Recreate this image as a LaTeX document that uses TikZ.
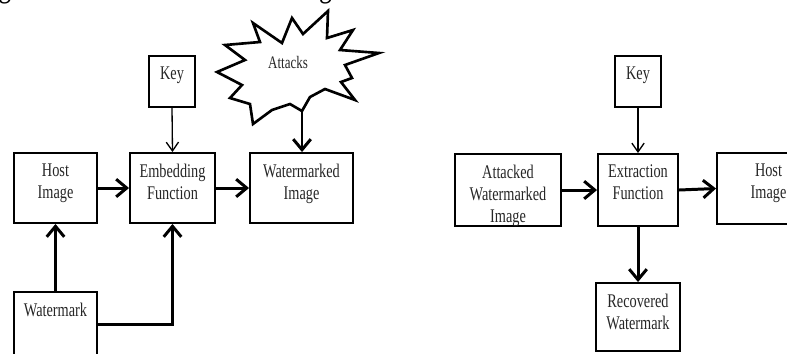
\documentclass[tikz,border=0pt]{standalone}
\usepackage{fontspec}
\setmainfont{Liberation Serif}[FakeStretch=0.74]
\usetikzlibrary{arrows.meta}

\begin{document}
\begin{tikzpicture}[x=0.02cm, y=-0.02cm,
		box/.style={draw=black, line width=1.1pt, inner sep=0pt},
		lbl/.style={anchor=north, align=center, inner sep=0pt, text=black!85, font=\fontsize{11}{12.5}\selectfont},
		flow/.style={line width=1.7pt, -{Straight Barb[length=6pt,width=10pt]}},
		keyflow/.style={line width=0.75pt, -{Straight Barb[length=5pt,width=7pt]}}]
			\useasboundingbox (0,0) rectangle (787,353);
			\clip (0,0) rectangle (787,353);
			% cut line of text above the figure
			\node (caption) [anchor=base west, inner sep=0pt, font=\fontsize{20}{22}\selectfont] at (-2,-4) {g and extraction is shown in Fig. 1.};
			% embedding
			\node[box, minimum width=1.66cm, minimum height=1.4cm] (host) at (55.5,188) {};
			\node[box, minimum width=1.7cm, minimum height=1.4cm] (embed) at (172.5,188) {};
			\node[box, minimum width=2.06cm, minimum height=1.4cm] (wmimg) at (301.5,188) {};
			\node[box, minimum width=0.92cm, minimum height=1.02cm] (keyA) at (172,81.5) {};
			\node[box, minimum width=1.66cm, minimum height=1.28cm] (wmark) at (55.5,324) {};
			\node[lbl] (hostT) at ([yshift=-6.6pt]host.north) {Host\\Image};
			\node[lbl] (embedT) at ([yshift=-6.6pt]embed.north) {Embedding\\Function};
			\node[lbl] (wmimgT) at ([yshift=-6.6pt]wmimg.north) {Watermarked\\Image};
			\node[lbl] (keyAT) at ([yshift=-6.6pt]keyA.north) {Key};
			\node[lbl] (wmarkT) at ([yshift=-6.6pt]wmark.north) {Watermark};
			\draw[line width=1.5pt, line join=miter, miter limit=20] plot coordinates {(253,23) (282,43) (292,18) (303,34) (328,11) (327,38) (353,30) (340,50) (379,53) (345,65) (352,78) (341,82) (355,100) (325,89) (310,97) (302,111) (290,104) (272,110) (253,124) (250,104) (230,98) (242,85) (217,72) (245,60) (225,45) (260,42)} -- cycle;
			\node (attacks) [font=\fontsize{10}{11}\selectfont, text=black!85, inner sep=0pt] at (288,62) {Attacks};
			\coordinate (atk) at (302,111);
			\draw[flow] (host.east) -- (embed.west);
			\draw[flow] (embed.east) -- (wmimg.west);
			\draw[keyflow] (keyA.south) -- (embed.north);
			\draw[flow] (atk) -- (atk |- wmimg.north);
			\draw[flow] (wmark.north) -- (host.south);
			\draw[flow] (wmark.east) -| (embed.south);
			% extraction
			\node[box, minimum width=2.12cm, minimum height=1.44cm] (attacked) at (508,190) {};
			\node[box, minimum width=1.6cm, minimum height=1.44cm] (extract) at (638,190) {};
			\node[box, minimum width=2.06cm, minimum height=1.42cm] (hostB) at (768.5,188.5) {};
			\node[box, minimum width=0.92cm, minimum height=1.02cm] (keyB) at (638,81.5) {};
			\node[box, minimum width=1.68cm, minimum height=1.36cm] (recov) at (638,317) {};
			\node[lbl] (attackedT) at ([yshift=-6.6pt]attacked.north) {Attacked\\Watermarked\\Image};
			\node[lbl] (extractT) at ([yshift=-6.6pt]extract.north) {Extraction\\Function};
			\node[lbl] (hostBT) at ([yshift=-6.6pt]hostB.north) {Host\\Image};
			\node[lbl] (keyBT) at ([yshift=-6.6pt]keyB.north) {Key};
			\node[lbl] (recovT) at ([yshift=-6.6pt]recov.north) {Recovered\\Watermark};
			\draw[flow] (attacked.east) -- (extract.west);
			\draw[flow] (extract.east) -- (hostB.west);
			\draw[keyflow] (keyB.south) -- (extract.north);
			\draw[flow] (extract.south) -- (recov.north);
		\end{tikzpicture}
\end{document}
